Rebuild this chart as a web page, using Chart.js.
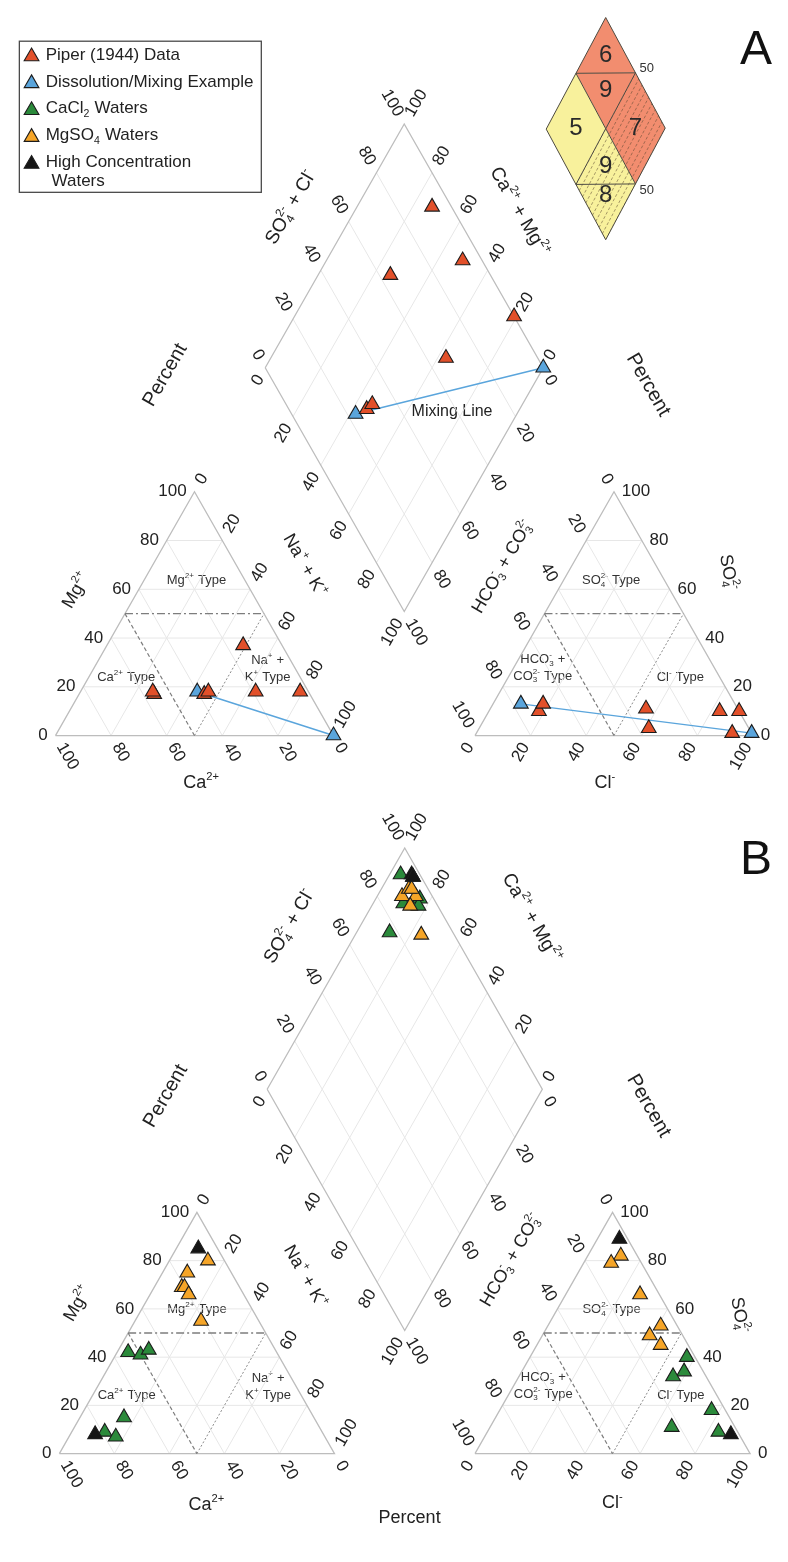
<!DOCTYPE html>
<html>
<head>
<meta charset="utf-8">
<title>Piper diagrams</title>
<script src="https://cdn.jsdelivr.net/npm/chart.js@4.4.1/dist/chart.umd.min.js"></script>
<style>
  html, body { margin: 0; padding: 0; background: #fff; }
  #wrap { width: 788px; height: 1562px; }
</style>
</head>
<body>
<div id="wrap"><canvas id="piper" width="788" height="1562"></canvas></div>
<script>
// ========================================
// Data (milliequivalent percent)
// cations: Ca, Mg, Na+K   anions: HCO3+CO3, SO4, Cl
// ========================================

// Panel A - Piper (1944) samples
const piperCa   = [56, 14, 56,  3, 19, 38, 36];
const piperMg   = [17, 37, 18, 18, 18, 17, 18];
const piperNaK  = [27, 49, 26, 79, 63, 45, 46];
const piperHCO3 = [ 7,  7, 36,  0, 33, 72, 69];
const piperSO4  = [10,  1,  3, 10, 11, 10, 13];
const piperCl   = [83, 92, 61, 90, 56, 18, 18];

// Panel A - dissolution / mixing end members
const mixCa   = [40,   0];
const mixMg   = [18,   0];
const mixNaK  = [42, 100];
const mixHCO3 = [77,   0];
const mixSO4  = [13,   1];
const mixCl   = [10,  99];

// Panel B - CaCl2 waters
const cacl2Ca   = [54, 50, 46, 69, 79, 76];
const cacl2Mg   = [42, 41, 43, 15,  9,  7];
const cacl2NaK  = [ 4,  9, 11, 16, 12, 17];
const cacl2HCO3 = [ 7,  3, 12,  5, 23,  7];
const cacl2SO4  = [34, 40, 32, 18, 11,  9];
const cacl2Cl   = [59, 57, 56, 77, 66, 84];

// Panel B - MgSO4 waters
const mgso4Ca   = [ 6, 16, 21, 20, 20, 21];
const mgso4Mg   = [80, 75, 69, 69, 66, 55];
const mgso4NaK  = [14,  9, 10, 11, 14, 24];
const mgso4HCO3 = [ 6, 11,  7,  6, 10, 12];
const mgso4SO4  = [82, 79, 66, 53, 45, 49];
const mgso4Cl   = [12, 10, 27, 41, 45, 39];

// Panel B - high concentration waters
const highCa   = [ 7, 83];
const highMg   = [85,  8];
const highNaK  = [ 8,  9];
const highHCO3 = [ 3,  3];
const highSO4  = [89,  8];
const highCl   = [ 8, 89];

const tickValues = [0, 20, 40, 60, 80, 100];
const gridValues = [20, 40, 60, 80];
const legendLabels = ['Piper (1944) Data', 'Dissolution/Mixing Example', 'CaCl_{2} Waters', 'MgSO_{4} Waters', 'High Concentration'];

// ========================================
// Layout / style
// ========================================
const FONT = '"Liberation Sans", Arial, sans-serif';
const COL = { piper: '#e2502a', mix: '#5aa5dc', cacl2: '#2b8a3b', mgso4: '#f5a528', high: '#151515' };
const SQ = Math.sqrt(3) / 2;

function makeGeom(cx, baseY, side, gap) {
    const H = side * SQ;
    const bottomY = baseY - gap * SQ;
    return {
        cx, baseY, side, H,
        lx: cx - gap / 2 - side,
        rx: cx + gap / 2,
        L: { x: cx - side / 2, y: bottomY - H },
        AB: { x: side / 2, y: -H },
        AD: { x: side / 2, y: H }
    };
}
const gA = makeGeom(404.5, 735, 285, 145);
const gB = makeGeom(405, 1462, 282, 144);

// ternary -> chart space
function cationPt(g, ca, mg, na) {
    const t = ca + mg + na, m = mg / t, n = na / t;
    return { x: g.lx + g.side * (n + m / 2), y: g.baseY - g.H * m };
}
function anionPt(g, hco3, so4, cl) {
    const t = hco3 + so4 + cl, s = so4 / t, c = cl / t;
    return { x: g.rx + g.side * (c + s / 2), y: g.baseY - g.H * s };
}
function diamondPt(g, u, v) {
    return { x: g.L.x + u * g.AB.x + v * g.AD.x, y: g.L.y + u * g.AB.y + v * g.AD.y };
}

function samplePoints(g, ca, mg, na, hco3, so4, cl) {
    const pts = [];
    for (let i = 0; i < ca.length; i++) {
        pts.push(cationPt(g, ca[i], mg[i], na[i]));
        pts.push(anionPt(g, hco3[i], so4[i], cl[i]));
        pts.push(diamondPt(g, (so4[i] + cl[i]) / (hco3[i] + so4[i] + cl[i]), na[i] / (ca[i] + mg[i] + na[i])));
    }
    return pts;
}

const GAP = { x: null, y: null };
function gridLines(g) {
    const pts = [];
    gridValues.forEach(k => {
        pts.push(cationPt(g, 100 - k, k, 0), cationPt(g, 0, k, 100 - k), GAP);
        pts.push(cationPt(g, 100 - k, 0, k), cationPt(g, 0, 100 - k, k), GAP);
        pts.push(cationPt(g, k, 100 - k, 0), cationPt(g, k, 0, 100 - k), GAP);
        pts.push(anionPt(g, 100 - k, k, 0), anionPt(g, 0, k, 100 - k), GAP);
        pts.push(anionPt(g, 100 - k, 0, k), anionPt(g, 0, 100 - k, k), GAP);
        pts.push(anionPt(g, k, 100 - k, 0), anionPt(g, k, 0, 100 - k), GAP);
        pts.push(diamondPt(g, k / 100, 0), diamondPt(g, k / 100, 1), GAP);
        pts.push(diamondPt(g, 0, k / 100), diamondPt(g, 1, k / 100), GAP);
    });
    return pts;
}
function outlines(g) {
    return [
        cationPt(g, 100, 0, 0), cationPt(g, 0, 100, 0), cationPt(g, 0, 0, 100), cationPt(g, 100, 0, 0), GAP,
        anionPt(g, 100, 0, 0), anionPt(g, 0, 100, 0), anionPt(g, 0, 0, 100), anionPt(g, 100, 0, 0), GAP,
        diamondPt(g, 0, 0), diamondPt(g, 1, 0), diamondPt(g, 1, 1), diamondPt(g, 0, 1), diamondPt(g, 0, 0), GAP
    ];
}
function typeLine(g, kind) {
    // kind: 'top' (50 % Mg / SO4), 'left' (50 % Ca / HCO3), 'right' (50 % Na / Cl)
    const c = { top: [[50, 50, 0], [0, 50, 50]], left: [[50, 50, 0], [50, 0, 50]], right: [[50, 0, 50], [0, 50, 50]] }[kind];
    return [
        cationPt(g, ...c[0]), cationPt(g, ...c[1]), GAP,
        anionPt(g, ...c[0]), anionPt(g, ...c[1]), GAP
    ];
}
function mixingLine(g) {
    const p = samplePoints(g, mixCa, mixMg, mixNaK, mixHCO3, mixSO4, mixCl);
    return [p[0], p[3], GAP, p[1], p[4], GAP, p[2], p[5], GAP];
}

function lineSet(data, color, width, dash, order) {
    return { data, showLine: true, borderColor: color, borderWidth: width, borderDash: dash || [],
             pointRadius: 0, fill: false, spanGaps: false, clip: false, order };
}
function markerSet(data, color, order) {
    return { data, pointStyle: 'triangle', pointRadius: 8.5, backgroundColor: color,
             borderColor: '#1c1c1c', borderWidth: 1.1, showLine: false, clip: false, order };
}

const datasets = [];
[gA, gB].forEach(g => {
    datasets.push(lineSet(gridLines(g), '#e7e7e7', 1, null, 10));
    datasets.push(lineSet(outlines(g), '#bdbdbd', 1.3, null, 9));
    datasets.push(lineSet(typeLine(g, 'top'), '#7d7d7d', 1.3, [8, 3, 2, 3], 8));
    datasets.push(lineSet(typeLine(g, 'left'), '#7d7d7d', 1.2, [4, 2.5], 8));
    datasets.push(lineSet(typeLine(g, 'right'), '#8a8a8a', 1, [2, 2], 8));
});
datasets.push(lineSet(mixingLine(gA), COL.mix, 1.5, null, 7));
datasets.push(markerSet(samplePoints(gA, mixCa, mixMg, mixNaK, mixHCO3, mixSO4, mixCl), COL.mix, 6));
datasets.push(markerSet(samplePoints(gA, piperCa, piperMg, piperNaK, piperHCO3, piperSO4, piperCl), COL.piper, 5));
datasets.push(markerSet(samplePoints(gB, cacl2Ca, cacl2Mg, cacl2NaK, cacl2HCO3, cacl2SO4, cacl2Cl), COL.cacl2, 6));
datasets.push(markerSet(samplePoints(gB, mgso4Ca, mgso4Mg, mgso4NaK, mgso4HCO3, mgso4SO4, mgso4Cl), COL.mgso4, 5));
datasets.push(markerSet(samplePoints(gB, highCa, highMg, highNaK, highHCO3, highSO4, highCl), COL.high, 4));

// ========================================
// Text helpers (sub / superscripts)
// ========================================
function parseRich(s) {
    const parts = [];
    let i = 0;
    while (i < s.length) {
        if ((s[i] === '^' || s[i] === '_') && s[i + 1] === '{') {
            const end = s.indexOf('}', i);
            const kind = s[i] === '^' ? 'sup' : 'sub';
            const prev = parts[parts.length - 1];
            if (prev && prev.t === undefined && !prev[kind]) prev[kind] = s.slice(i + 2, end);
            else parts.push({ [kind]: s.slice(i + 2, end) });
            i = end + 1;
        } else {
            let j = i;
            while (j < s.length && !((s[j] === '^' || s[j] === '_') && s[j + 1] === '{')) j++;
            parts.push({ t: s.slice(i, j) });
            i = j;
        }
    }
    return parts;
}
function drawRich(ctx, s, x, y, size, angle, align, color) {
    const parts = parseRich(s);
    const small = size * 0.62;
    ctx.save();
    ctx.translate(x, y);
    ctx.rotate((angle || 0) * Math.PI / 180);
    ctx.fillStyle = color || '#222';
    ctx.textBaseline = 'middle';
    ctx.textAlign = 'left';
    const widths = parts.map(p => {
        if (p.t !== undefined) { ctx.font = `${size}px ${FONT}`; return ctx.measureText(p.t).width; }
        ctx.font = `${small}px ${FONT}`;
        return Math.max(p.sup ? ctx.measureText(p.sup).width : 0, p.sub ? ctx.measureText(p.sub).width : 0) + 0.5;
    });
    const w = widths.reduce((a, b) => a + b, 0);
    let cx = align === 'right' ? -w : align === 'left' ? 0 : -w / 2;
    parts.forEach((p, i) => {
        if (p.t !== undefined) {
            ctx.font = `${size}px ${FONT}`;
            ctx.fillText(p.t, cx, 0);
        } else {
            ctx.font = `${small}px ${FONT}`;
            if (p.sup) ctx.fillText(p.sup, cx, -size * 0.34);
            if (p.sub) ctx.fillText(p.sub, cx, size * 0.3);
        }
        cx += widths[i];
    });
    ctx.restore();
}

// tick labels of one panel: [anchor point, direction, value]
function tickSpecs(g) {
    const out = [];
    tickValues.forEach(k => {
        out.push([cationPt(g, 100 - k, k, 0), [-1, 0], k]);
        out.push([cationPt(g, 0, 100 - k, k), [0.5, -SQ], k]);
        out.push([cationPt(g, k, 0, 100 - k), [0.5, SQ], k]);
        out.push([anionPt(g, 0, k, 100 - k), [1, 0], k]);
        out.push([anionPt(g, k, 100 - k, 0), [-0.5, -SQ], k]);
        out.push([anionPt(g, 100 - k, 0, k), [-0.5, SQ], k]);
        out.push([diamondPt(g, k / 100, 0), [-0.5, -SQ], k]);
        out.push([diamondPt(g, 1, 1 - k / 100), [0.5, -SQ], k]);
        out.push([diamondPt(g, 0, k / 100), [-0.5, SQ], k]);
        out.push([diamondPt(g, 1 - k / 100, 1), [0.5, SQ], k]);
    });
    return out;
}

// axis titles, offsets from (cx, baseY): [text, dx, dy, angle, size]
const titlesA = [
    ['Mg^{2+}', -336, -147, -60, 18],
    ['Na^{+} + K^{+}', -102, -172, 60, 18],
    ['Ca^{2+}', -208, 48, 0, 18],
    ['HCO_{3}^{-} + CO_{3}^{2-}', 101, -171, -60, 18],
    ['SO_{4}^{2-}', 332, -165, 80, 18],
    ['Cl^{-}', 206, 48, 0, 18],
    ['SO_{4}^{2-} + Cl^{-}', -116, -535, -60, 19],
    ['Ca^{2+} + Mg^{2+}', 118, -530, 60, 19],
    ['Percent', -245, -365, -60, 20],
    ['Percent', 250, -355, 60, 20]
];
const titlesB = [
    ['Mg^{2+}', -335, -152, -60, 18],
    ['Na^{+} + K^{+}', -102, -179, 60, 18],
    ['Ca^{2+}', -203, 52, 0, 18],
    ['HCO_{3}^{-} + CO_{3}^{2-}', 109, -196, -60, 18],
    ['SO_{4}^{2-}', 343, -140, 80, 18],
    ['Cl^{-}', 213, 50, 0, 18],
    ['SO_{4}^{2-} + Cl^{-}', -118, -534, -60, 19],
    ['Ca^{2+} + Mg^{2+}', 130, -542, 60, 19],
    ['Percent', -245, -362, -60, 20],
    ['Percent', 250, -352, 60, 20],
    ['Percent', 5, 65, 0, 18]
];
// type labels: [text, dx, dy]  (dy null -> panel specific)
function typeLabels(topDy) {
    return [
        ['Mg^{2+} Type', -213, -topDy],
        ['Ca^{2+} Type', -285, -59],
        ['Na^{+} +', -140, -76],
        ['K^{+} Type', -140, -59],
        ['SO_{4}^{2-} Type', 212, -topDy],
        ['HCO_{3}^{-} +', 142, -77],
        ['CO_{3}^{2-} Type', 142, -60],
        ['Cl^{-} Type', 283, -59]
    ];
}

// inset classification diamond (u, v space)
const inset = { x: 550, y: 121, ab: [61, -113], ad: [61, 112] };
const insetRegions = [
    { poly: [[1, 0], [0.5, 0], [1, 0.5]], fill: '#f28d6f', hatch: false, label: '6', at: [0.83, 0.17] },
    { poly: [[0.5, 0], [1, 0.5], [0.5, 0.5]], fill: '#f28d6f', hatch: false, label: '9', at: [0.67, 0.33] },
    { poly: [[0, 0], [0.5, 0], [0.5, 0.5], [0, 0.5]], fill: '#f8f19c', hatch: false, label: '5', at: [0.25, 0.25] },
    { poly: [[0.5, 0.5], [1, 0.5], [1, 1], [0.5, 1]], fill: '#f28d6f', hatch: true, label: '7', at: [0.75, 0.75] },
    { poly: [[0.5, 0.5], [0, 0.5], [0.5, 1]], fill: '#f8f19c', hatch: true, label: '9', at: [0.33, 0.67] },
    { poly: [[0, 0.5], [0.5, 1], [0, 1]], fill: '#f8f19c', hatch: true, label: '8', at: [0.2, 0.8] }
];

function triangle(ctx, x, y, r, fill) {
    ctx.beginPath();
    ctx.moveTo(x, y - r);
    ctx.lineTo(x + r * SQ, y + r / 2);
    ctx.lineTo(x - r * SQ, y + r / 2);
    ctx.closePath();
    ctx.fillStyle = fill;
    ctx.fill();
    ctx.lineWidth = 1.1;
    ctx.strokeStyle = '#1c1c1c';
    ctx.stroke();
}

const annotations = {
    id: 'piperAnnotations',
    beforeDatasetsDraw(chart) {
        const ctx = chart.ctx;
        const sx = chart.scales.x, sy = chart.scales.y;
        const P = p => ({ x: sx.getPixelForValue(p.x), y: sy.getPixelForValue(p.y) });

        [[gA, titlesA, 157], [gB, titlesB, 146]].forEach(([g, titles, topDy]) => {
            tickSpecs(g).forEach(([pt, d, k]) => {
                const horiz = d[1] === 0;
                const gap = horiz ? 8 : 10;
                const q = P({ x: pt.x + d[0] * gap, y: pt.y + d[1] * gap });
                let ang = Math.atan2(d[1], d[0]) * 180 / Math.PI;
                let align = 'left';
                if (Math.abs(ang) > 90) { ang += ang > 0 ? -180 : 180; align = 'right'; }
                drawRich(ctx, String(k), q.x, q.y, 17, ang, align, '#222');
            });
            titles.forEach(([t, dx, dy, ang, size]) => {
                const q = P({ x: g.cx + dx, y: g.baseY + dy });
                drawRich(ctx, t, q.x, q.y, size, ang, 'center', '#222');
            });
            typeLabels(topDy).forEach(([t, dx, dy]) => {
                const q = P({ x: g.cx + dx, y: g.baseY + dy });
                drawRich(ctx, t, q.x, q.y, 13, 0, 'center', '#333');
            });
        });

        // mixing line caption
        const m = P({ x: gA.cx + 49, y: gA.baseY - 328 });
        drawRich(ctx, 'Mixing Line', m.x, m.y, 16, 0, 'center', '#222');

        // panel letters
        let q = P({ x: 765, y: 42 });
        drawRich(ctx, 'A', q.x, q.y, 48, 0, 'center', '#111');
        q = P({ x: 765, y: 862 });
        drawRich(ctx, 'B', q.x, q.y, 48, 0, 'center', '#111');

        // legend
        const lt = P({ x: 10, y: 32 }), lb = P({ x: 258, y: 185 });
        ctx.save();
        ctx.strokeStyle = '#4a4a4a';
        ctx.lineWidth = 1.3;
        ctx.strokeRect(lt.x, lt.y, lb.x - lt.x, lb.y - lt.y);
        ctx.restore();
        const legendCols = [COL.piper, COL.mix, COL.cacl2, COL.mgso4, COL.high];
        legendLabels.forEach((label, i) => {
            const y = 46 + i * 27.2;
            const tp = P({ x: 22.5, y: y + 1.5 });
            triangle(ctx, tp.x, tp.y, 8.5, legendCols[i]);
            const lp = P({ x: 37, y });
            drawRich(ctx, label, lp.x, lp.y, 17, 0, 'left', '#222');
        });
        q = P({ x: 43, y: 174 });
        drawRich(ctx, 'Waters', q.x, q.y, 17, 0, 'left', '#222');

        // inset classification diamond
        const I = (u, v) => P({ x: inset.x + u * inset.ab[0] + v * inset.ad[0], y: inset.y + u * inset.ab[1] + v * inset.ad[1] });
        insetRegions.forEach(r => {
            ctx.save();
            ctx.beginPath();
            r.poly.forEach(([u, v], i) => { const p = I(u, v); i ? ctx.lineTo(p.x, p.y) : ctx.moveTo(p.x, p.y); });
            ctx.closePath();
            ctx.fillStyle = r.fill;
            ctx.fill();
            if (r.hatch) {
                ctx.clip();
                ctx.strokeStyle = 'rgba(90,70,50,0.75)';
                ctx.lineWidth = 0.7;
                ctx.setLineDash([3, 2]);
                for (let v = 0.5; v <= 1.0001; v += 1 / 18) {
                    const a = I(-0.2, v), b = I(1.2, v);
                    ctx.beginPath();
                    ctx.moveTo(a.x, a.y);
                    ctx.lineTo(b.x, b.y);
                    ctx.stroke();
                }
            }
            ctx.restore();
        });
        ctx.save();
        ctx.strokeStyle = '#4d4a40';
        ctx.lineWidth = 1;
        const edges = [
            [[0, 0], [1, 0]], [[1, 0], [1, 1]], [[1, 1], [0, 1]], [[0, 1], [0, 0]],
            [[0.5, 0], [0.5, 1]], [[0, 0.5], [1, 0.5]], [[0.5, 0], [1, 0.5]], [[0, 0.5], [0.5, 1]]
        ];
        edges.forEach(([a, b]) => {
            const p1 = I(a[0], a[1]), p2 = I(b[0], b[1]);
            ctx.beginPath();
            ctx.moveTo(p1.x, p1.y);
            ctx.lineTo(p2.x, p2.y);
            ctx.stroke();
        });
        ctx.restore();
        insetRegions.forEach(r => {
            const p = I(r.at[0], r.at[1]);
            drawRich(ctx, r.label, p.x, p.y, 24, 0, 'center', '#2a2a2a');
        });
        let p50 = I(1, 0.5);
        drawRich(ctx, '50', p50.x + 4, p50.y - 4, 13, 0, 'left', '#333');
        p50 = I(0.5, 1);
        drawRich(ctx, '50', p50.x + 4, p50.y + 6, 13, 0, 'left', '#333');
    }
};

new Chart(document.getElementById('piper'), {
    type: 'scatter',
    data: { datasets },
    options: {
        responsive: false,
        animation: false,
        devicePixelRatio: 1,
        events: [],
        layout: { padding: 0 },
        scales: {
            x: { type: 'linear', min: 0, max: 788, display: false },
            y: { type: 'linear', min: 0, max: 1562, reverse: true, display: false }
        },
        plugins: {
            legend: { display: false },
            tooltip: { enabled: false }
        }
    },
    plugins: [annotations]
});
</script>
</body>
</html>
